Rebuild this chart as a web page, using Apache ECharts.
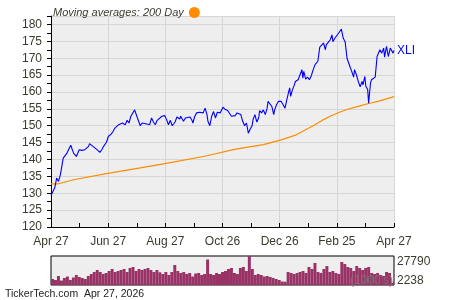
<!DOCTYPE html>
<html>
<head>
<meta charset="utf-8">
<script src="https://cdn.jsdelivr.net/npm/echarts@6/dist/echarts.min.js"></script>
<style>html,body{margin:0;padding:0;background:#fff}#c{width:450px;height:300px}</style>
</head>
<body>
<div id="c"></div>
<script>
// X tick labels (6 equal spans over one year, in days)
const xLabels = ['Apr 27','Jun 27','Aug 27','Oct 26','Dec 26','Feb 25','Apr 27'];
const spanDays = 365;

// XLI price: day offset from Apr 27 and close value
const priceDays = [0,4,6,8,10,12,13,15,17,18,21,24,27,28,30,33,36,40,41,43,46,49,52,54,56,59,61,64,66,68,70,72,74,76,79,81,83,85,87,89,90,92,95,97,99,102,105,107,109,111,113,115,118,119,121,123,125,127,129,132,134,137,138,141,143,145,148,150,151,153,155,158,160,162,164,166,167,169,171,173,175,177,180,182,183,185,188,190,192,194,196,198,200,202,204,206,208,210,212,214,215,217,219,221,222,224,226,228,230,231,233,235,237,238,240,242,244,245,247,249,251,253,254,255,257,259,260,261,263,265,267,268,269,271,273,275,277,279,281,283,284,286,288,290,292,293,295,297,299,300,302,304,306,308,309,311,313,315,316,318,320,322,323,325,327,329,331,332,334,335,337,338,339,340,341,343,345,347,348,350,352,354,355,357,359,361,363,364,365];
const priceVals = [129.3,131.6,134.5,133.5,135.5,135.9,140.4,140.9,141.9,142.5,144.2,141.9,140.9,140.7,142.9,142.7,142.9,143.9,144.7,144.2,143.6,142.9,142.1,142.9,143.9,145.1,146.8,147.5,148.3,149.3,149.1,150.3,149.8,150.8,150.3,151.6,150.8,152.8,153.3,154.7,154.4,152.3,150.0,150.8,150.3,150.5,150.3,152.3,151.1,150.3,151.6,151.3,152.8,152.3,153.0,151.8,150.3,151.6,150.0,151.1,152.6,152.0,152.8,151.3,152.3,152.8,152.6,151.6,150.8,152.8,153.8,154.0,154.2,153.8,155.2,153.3,151.3,150.0,152.8,154.2,152.3,154.0,153.8,154.2,155.5,154.9,154.5,154.2,152.8,152.3,153.0,153.8,154.0,153.3,151.3,150.0,150.8,147.8,149.0,150.0,151.8,153.3,151.1,152.3,154.5,153.8,154.7,153.3,155.2,157.2,156.7,155.7,153.3,154.7,156.2,157.2,157.7,157.2,156.2,155.2,157.7,160.2,161.2,158.7,160.7,162.1,163.1,162.6,163.6,165.1,166.6,164.1,166.1,163.8,164.4,163.6,164.8,166.6,168.1,168.6,169.1,173.3,173.0,174.5,172.5,174.0,174.7,175.4,176.9,174.9,175.9,175.4,177.4,177.4,178.6,175.9,174.9,170.0,169.5,167.6,166.1,164.4,166.6,165.1,163.1,161.5,163.1,162.1,164.6,161.7,160.7,156.7,159.7,162.6,163.6,164.1,164.4,170.5,171.0,172.5,171.5,173.0,170.3,173.5,170.5,173.0,173.5,171.5,172.3];

// 200-day moving average
const maDays = [0,8,24,59,95,130,166,194,208,226,245,261,279,288,297,307,315,324,337,349,365];
const maVals = [132.8,132.8,134.0,135.8,137.5,139.2,141.1,142.9,143.6,144.4,145.8,147.3,150.0,151.5,152.8,154.0,154.8,155.5,156.5,157.3,158.6];

// Volume (thousands)
const volumes = [5750,4790,8620,4310,6710,8140,4790,7190,9580,7660,6710,5750,8620,10540,12450,14370,12450,10540,11500,13410,15330,12450,13410,14370,15330,12450,16290,17240,13410,15330,14370,15330,16290,14370,12450,14370,12170,10540,12450,9580,12450,19160,13410,11500,12450,10540,11500,8140,11020,11500,9580,10540,24430,10540,9580,11500,10540,12450,13410,15330,16290,11500,10540,16290,17240,13410,27790,15330,9580,10540,9580,8140,8620,7660,6710,5750,4790,3350,3160,12450,11500,10540,11500,12450,13410,11500,17240,15330,21080,12450,11500,15330,18200,12450,13410,11500,10540,22030,20120,17240,16290,13410,18200,16290,14370,16290,17240,11500,10540,11500,9580,8620,12450,11500,2238];
const volLabels = ['27790','2238'];

const ticker = 'XLI';
const maName = 'Moving averages: 200 Day';
const footer = 'TickerTech.com  Apr 27, 2026';

const FONT = 'Liberation Sans, Arial, sans-serif';
const chart = echarts.init(document.getElementById('c'), null, {renderer:'canvas'});
const step = spanDays / 6;
chart.setOption({
  animation:false,
  backgroundColor:'#ffffff',
  textStyle:{fontFamily:FONT},
  legend:{
    data:[maName], left:48, top:2, icon:'circle', itemWidth:11, itemHeight:11,
    align:'right', selectedMode:false,
    textStyle:{fontStyle:'italic', fontSize:11, color:'#3a3a2e', fontFamily:FONT}
  },
  grid:[
    {left:51, right:56, top:16, height:211, show:true, backgroundColor:'#eeeeee', borderWidth:0},
    {left:51, right:56, top:256, height:29, show:true, backgroundColor:'#eeeeee', borderColor:'#000', borderWidth:1}
  ],
  xAxis:[
    {type:'value', gridIndex:0, min:0, max:spanDays, interval:step,
     axisLine:{show:true, lineStyle:{color:'#000', width:1}},
     axisTick:{show:true, inside:true, length:4, lineStyle:{color:'#000'}},
     minorTick:{show:true, splitNumber:2, length:4, lineStyle:{color:'#000'}},
     splitLine:{show:true, lineStyle:{color:'#d6d6d6', width:1}},
     axisLabel:{margin:9, fontSize:12, color:'#3a3a2e', fontFamily:FONT,
       formatter:v => xLabels[Math.round(v/step)] || ''}},
    {type:'category', gridIndex:1, data:volumes.map((v,i)=>i), show:false, boundaryGap:true}
  ],
  yAxis:[
    {type:'value', gridIndex:0, min:120, max:182.5, interval:5,
     axisLine:{show:true, lineStyle:{color:'#000', width:1}},
     axisTick:{show:true, length:4, lineStyle:{color:'#000'}},
     minorTick:{show:true, splitNumber:2, length:4, lineStyle:{color:'#000'}},
     splitLine:{show:true, lineStyle:{color:'#d6d6d6', width:1}},
     axisLabel:{margin:9, fontSize:12, color:'#3a3a2e', fontFamily:FONT, showMaxLabel:false,
       formatter:v => (v % 5 === 0 ? String(v) : '')}},
    {type:'value', gridIndex:1, min:0, max:27790, show:false}
  ],
  series:[
    {name:maName, type:'line', xAxisIndex:0, yAxisIndex:0, showSymbol:false, symbol:'none',
     color:'#ff8c00', lineStyle:{color:'#ff8c00', width:1.2},
     data:maDays.map((d,i)=>[d, maVals[i]])},
    {name:ticker, type:'line', xAxisIndex:0, yAxisIndex:0, showSymbol:false, symbol:'none',
     color:'#0000ff', lineStyle:{color:'#0000ff', width:1.1},
     endLabel:{show:true, formatter:ticker, color:'#0000ff', fontSize:12, distance:3, fontFamily:FONT},
     data:priceDays.map((d,i)=>[d, priceVals[i]])},
    {name:'Volume', type:'bar', xAxisIndex:1, yAxisIndex:1, barCategoryGap:'0%',
     itemStyle:{color:'#993366'}, data:volumes}
  ],
  graphic:[
    {type:'text', x:397, y:262, style:{text:volLabels[0], fill:'#3a3a2e', font:'12px '+FONT, verticalAlign:'middle'}},
    {type:'text', x:397, y:281, style:{text:volLabels[1], fill:'#3a3a2e', font:'12px '+FONT, verticalAlign:'middle'}},
    {type:'text', x:393, y:281, z:100, style:{text:"(1000's)", fill:'rgba(120,120,120,0.85)', font:'12px '+FONT, align:'right', verticalAlign:'middle'}},
    {type:'text', x:5, y:294, style:{text:footer, fill:'#222', font:'10.5px '+FONT, verticalAlign:'middle'}}
  ]
});
</script>
</body>
</html>
